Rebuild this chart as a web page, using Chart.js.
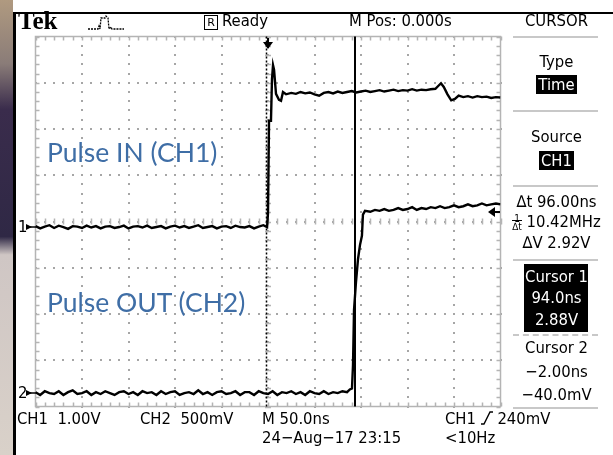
<!DOCTYPE html>
<html>
<head>
<meta charset="UTF-8">
<title>Tek - Pulse IN / Pulse OUT</title>
<script src="https://cdn.jsdelivr.net/npm/chart.js@4"></script>
<style>
    body {
        margin: 0;
        width: 613px;
        height: 455px;
        overflow: hidden;
        background: #fff;
        position: relative;
        font-family: 'DejaVu Sans Condensed', 'Liberation Sans', sans-serif;
    }
    #strip {
        position: absolute; left: 0; top: 0; width: 13px; height: 455px;
        background: linear-gradient(to bottom, #b09a80 0%, #8a7c78 14%, #3a2c4c 24%, #2f2845 52%, #cfc6c4 56%, #d9d1c9 100%);
    }
    #frameL { position: absolute; left: 13px; top: 12px; width: 3px; height: 443px; background: #000; }
    #frameT { position: absolute; left: 13px; top: 12px; width: 600px; height: 2px; background: #000; }
    #scope { position: absolute; left: 0; top: 0; }
    .t {
        position: absolute;
        white-space: nowrap;
        color: #000;
        font-size: 16.5px;
        line-height: 18px;
    }
    .c { left: 500px; width: 113px; text-align: center; }
    .inv { background: #000; color: #fff; padding: 0 2px; }
    .sep { position: absolute; left: 513px; width: 85px; height: 0; border-top: 2px solid #c8c8c8; }
    .note {
        position: absolute;
        white-space: nowrap;
        font-family: Lato, 'Open Sans', sans-serif;
        font-size: 26.5px;
        line-height: 30px;
        color: #3f6ea6;
    }
</style>
</head>
<body>
<div id="strip"></div>
<canvas id="scope" width="613" height="455"></canvas>
<div id="frameL"></div>
<div id="frameT"></div>

<!-- top status line -->
<div class="t" style="left:18px; top:9px; font-family:'Liberation Serif',serif; font-weight:bold; font-size:25px; line-height:24px;">Tek</div>
<svg style="position:absolute; left:88px; top:14px;" width="38" height="18">
    <polyline points="0,15 10,15 11,12 12,15 13,4 17,4 18,2 20,4 21,15 23,13 24,15 36,15" fill="none" stroke="#000" stroke-width="1.3" stroke-dasharray="2,1"/>
</svg>
<div style="position:absolute; left:204px; top:15px; width:12px; height:13px; border:1px solid #000; font-size:11px; line-height:13px; text-align:center; font-family:'DejaVu Sans',sans-serif;">R</div>
<div class="t" style="left:222px; top:12px;">Ready</div>
<div class="t" style="left:349px; top:12px;">M Pos: 0.000s</div>
<div class="t c" style="top:12px;">CURSOR</div>

<!-- right menu -->
<div class="sep" style="top:36px;"></div>
<div class="t c" style="top:53px;">Type</div>
<div class="t c" style="top:76px;"><span class="inv">Time</span></div>
<div class="sep" style="top:110px;"></div>
<div class="t c" style="top:128px;">Source</div>
<div class="t c" style="top:152px;"><span class="inv">CH1</span></div>
<div class="sep" style="top:185px;"></div>
<div class="t c" style="top:193px;">&#8710;t 96.00ns</div>
<div class="t c" style="top:213px;"><span style="display:inline-block; font-size:10px; line-height:8px; vertical-align:middle; text-align:center;">1<br><span style="border-top:1px solid #000;">&#8710;t</span></span> 10.42MHz</div>
<div class="t c" style="top:234px;">&#8710;V 2.92V</div>
<div class="sep" style="top:259px;"></div>
<div style="position:absolute; left:524px; top:264px; width:64px; height:68px; background:#000;"></div>
<div class="t c" style="top:268px; color:#fff;">Cursor 1</div>
<div class="t c" style="top:289px; color:#fff;">94.0ns</div>
<div class="t c" style="top:311px; color:#fff;">2.88V</div>
<div class="sep" style="top:334px; border-top-style:dashed;"></div>
<div class="t c" style="top:339px;">Cursor 2</div>
<div class="t c" style="top:363px;">&minus;2.00ns</div>
<div class="t c" style="top:386px;">&minus;40.0mV</div>
<div class="sep" style="top:407px;"></div>

<!-- bottom status lines -->
<div class="t" style="left:17px; top:410px;">CH1&nbsp; 1.00V</div>
<div class="t" style="left:140px; top:410px;">CH2&nbsp; 500mV</div>
<div class="t" style="left:262px; top:410px;">M 50.0ns</div>
<div class="t" style="left:445px; top:410px;">CH1 <svg width="12" height="14" style="vertical-align:-1px;"><polyline points="0,13 3,13 9,1 12,1" fill="none" stroke="#000" stroke-width="1.4"/></svg> 240mV</div>
<div class="t" style="left:262px; top:429px;">24&minus;Aug&minus;17 23:15</div>
<div class="t" style="left:445px; top:429px;">&lt;10Hz</div>

<!-- channel markers -->
<div class="t" style="left:18px; top:218px;">1</div>
<svg style="position:absolute; left:26px; top:222px;" width="10" height="10"><polygon points="0,2 6,5 0,8" fill="#000"/><line x1="0" y1="5" x2="10" y2="5" stroke="#000" stroke-width="1.5"/></svg>
<div class="t" style="left:18px; top:384px;">2</div>
<svg style="position:absolute; left:26px; top:388px;" width="10" height="10"><polygon points="0,2 6,5 0,8" fill="#000"/><line x1="0" y1="5" x2="10" y2="5" stroke="#000" stroke-width="1.5"/></svg>
<svg style="position:absolute; left:262px; top:38px;" width="12" height="12"><line x1="6" y1="0" x2="6" y2="10" stroke="#000" stroke-width="2"/><polygon points="1,4 11,4 6,11" fill="#000"/></svg>
<svg style="position:absolute; left:488px; top:206px;" width="12" height="12"><polygon points="0,6 7,1 7,11" fill="#000"/><line x1="4" y1="6" x2="12" y2="6" stroke="#000" stroke-width="2"/></svg>

<!-- annotations -->
<div class="note" style="left:47px; top:137px;">Pulse IN (CH1)</div>
<div class="note" style="left:47px; top:287px;">Pulse OUT (CH2)</div>

<script>
// time in ns, values in volts
const ch1Time = [-250, -245, -240, -235, -230, -225, -220, -215, -210, -205,
    -200, -195, -190, -185, -180, -175, -170, -165, -160, -155,
    -150, -145, -140, -135, -130, -125, -120, -115, -110, -105,
    -100, -95, -90, -85, -80, -75, -70, -65, -60, -55,
    -50, -45, -40, -35, -30, -25, -20, -15, -10, -5,
    -1, 0, 1.1, 3.2, 4.3, 5.4, 6.5, 8.6, 11.8, 14, 16.1, 19.4,
    25, 30, 35, 40, 45, 50, 55, 60, 65, 70, 75, 80, 85, 90, 95, 100,
    105, 110, 115, 120, 125, 130, 135, 140, 145, 150, 155, 160, 165, 170, 175, 180,
    183, 186, 189, 193, 197, 201, 205, 210, 215, 220, 225, 230, 235, 240, 245, 250];
const ch1Volts = [0.02, -0.03, 0.01, 0.04, -0.02, 0.03, 0.00, -0.04, 0.02, 0.01,
    -0.02, 0.03, -0.01, 0.02, -0.03, 0.01, 0.02, -0.02, 0.00, 0.03,
    -0.03, 0.01, 0.02, -0.01, 0.03, -0.02, 0.00, 0.02, -0.03, 0.01,
    0.03, -0.01, 0.02, -0.02, 0.01, 0.04, -0.02, 0.00, 0.02, -0.03,
    0.01, 0.02, -0.02, 0.03, 0.00, -0.01, 0.02, -0.03, 0.01, 0.04,
    0.00, 0.30, 2.30, 2.30, 3.20, 3.50, 3.40, 2.88, 2.75, 2.73, 2.92, 2.87,
    2.90, 2.88, 2.92, 2.89, 2.91, 2.87, 2.84, 2.90, 2.92, 2.89, 2.93, 2.90, 2.92, 2.94, 2.91, 2.93,
    2.95, 2.92, 2.94, 2.96, 2.93, 2.95, 2.97, 2.94, 2.96, 2.95, 2.98, 2.95, 2.97, 2.96, 2.98, 2.99,
    3.05, 3.11, 3.03, 2.87, 2.74, 2.77, 2.84, 2.81, 2.83, 2.80, 2.83, 2.81, 2.82, 2.79, 2.81, 2.80];

const ch2Time = [-250, -245, -240, -235, -230, -225, -220, -215, -210, -205,
    -200, -195, -190, -185, -180, -175, -170, -165, -160, -155,
    -150, -145, -140, -135, -130, -125, -120, -115, -110, -105,
    -100, -95, -90, -85, -80, -75, -70, -65, -60, -55,
    -50, -45, -40, -35, -30, -25, -20, -15, -10, -5,
    0, 5, 10, 15, 20, 25, 30, 35, 40, 45,
    50, 55, 60, 65, 70, 75, 80, 85,
    88, 90.3, 91.4, 92.5, 94.6, 96.8, 98.9, 101, 102.1, 104.3,
    110, 115, 120, 125, 130, 135, 140, 145, 150, 155, 160, 165, 170, 175, 180,
    185, 190, 195, 200, 205, 210, 215, 220, 225, 230, 235, 240, 245, 250];
const ch2Volts = [0.01, -0.02, 0.02, 0.00, -0.01, 0.02, -0.02, 0.01, 0.03, -0.01,
    0.00, 0.02, -0.02, 0.01, -0.01, 0.02, 0.00, -0.02, 0.01, 0.02,
    -0.01, 0.01, -0.02, 0.02, 0.00, 0.01, -0.02, 0.02, -0.01, 0.01,
    0.02, -0.02, 0.00, 0.01, -0.01, 0.03, -0.01, 0.01, -0.02, 0.01,
    0.02, -0.01, 0.00, 0.02, -0.02, 0.01, 0.01, -0.02, 0.02, 0.00,
    -0.01, 0.02, -0.02, 0.01, 0.00, 0.02, -0.01, 0.01, -0.02, 0.02,
    0.00, -0.01, 0.02, -0.01, 0.01, 0.00, 0.02, 0.01,
    0.04, 0.05, 0.30, 0.90, 1.20, 1.45, 1.60, 1.70, 1.93, 1.97,
    1.96, 1.98, 1.97, 1.99, 1.97, 1.98, 2.00, 1.98, 1.99, 2.01, 1.98, 2.00, 1.99, 2.01, 2.00,
    2.02, 2.00, 2.01, 2.03, 2.01, 2.02, 2.04, 2.02, 2.03, 2.05, 2.03, 2.04, 2.05, 2.04];

// scope settings: volts per division and ground position in divisions
const ch1Scale = 1.0, ch1Pos = -0.12;
const ch2Scale = 0.5, ch2Pos = -3.71;
const cursorTimes = [94.0, -2.0];   // cursor 1 (solid), cursor 2 (dotted)

function toDivs(times, volts, scale, pos) {
    return times.map((t, i) => ({ x: t, y: volts[i] / scale + pos }));
}

const graticule = {
    id: 'graticule',
    beforeDatasetsDraw(chart) {
        const { ctx, chartArea: a, scales: { x, y } } = chart;
        ctx.save();
        ctx.fillStyle = '#a6a6a6';
        // dotted major lines, one dot per minor division
        for (let i = 1; i < 10; i++) {
            const px = x.getPixelForValue(-250 + i * 50);
            for (let j = 0; j <= 40; j++) {
                const py = y.getPixelForValue(-4 + j * 0.2);
                ctx.fillRect(Math.round(px) - 1, Math.round(py) - 1, 2, 2);
            }
        }
        for (let j = 1; j < 8; j++) {
            const py = y.getPixelForValue(-4 + j);
            for (let i = 0; i <= 50; i++) {
                const px = x.getPixelForValue(-250 + i * 10);
                ctx.fillRect(Math.round(px) - 1, Math.round(py) - 1, 2, 2);
            }
        }
        // frame with minor ticks
        ctx.strokeStyle = '#b4b4b4';
        ctx.lineWidth = 1.5;
        ctx.strokeRect(a.left, a.top, a.right - a.left, a.bottom - a.top);
        ctx.beginPath();
        for (let i = 0; i <= 50; i++) {
            const px = Math.round(x.getPixelForValue(-250 + i * 10)) + 0.5;
            ctx.moveTo(px, a.top); ctx.lineTo(px, a.top + 4);
            ctx.moveTo(px, a.bottom); ctx.lineTo(px, a.bottom - 4);
            const cy = y.getPixelForValue(0);
            ctx.moveTo(px, cy - 3); ctx.lineTo(px, cy + 3);
        }
        for (let j = 0; j <= 40; j++) {
            const py = Math.round(y.getPixelForValue(-4 + j * 0.2)) + 0.5;
            ctx.moveTo(a.left, py); ctx.lineTo(a.left + 4, py);
            ctx.moveTo(a.right, py); ctx.lineTo(a.right - 4, py);
            const cx = x.getPixelForValue(0);
            ctx.moveTo(cx - 3, py); ctx.lineTo(cx + 3, py);
        }
        ctx.stroke();
        // cursors
        ctx.strokeStyle = '#000';
        const c1 = Math.round(x.getPixelForValue(cursorTimes[0]));
        ctx.lineWidth = 2;
        ctx.beginPath(); ctx.moveTo(c1, a.top); ctx.lineTo(c1, a.bottom); ctx.stroke();
        const c2 = Math.round(x.getPixelForValue(cursorTimes[1])) + 0.5;
        ctx.lineWidth = 1.5;
        ctx.setLineDash([2, 2]);
        ctx.beginPath(); ctx.moveTo(c2, a.top); ctx.lineTo(c2, a.bottom); ctx.stroke();
        ctx.restore();
    }
};

new Chart(document.getElementById('scope'), {
    type: 'scatter',
    data: {
        datasets: [
            { label: 'CH1', data: toDivs(ch1Time, ch1Volts, ch1Scale, ch1Pos) },
            { label: 'CH2', data: toDivs(ch2Time, ch2Volts, ch2Scale, ch2Pos) }
        ]
    },
    options: {
        responsive: false,
        animation: false,
        showLine: true,
        layout: { padding: { left: 35.5, right: 112.5, top: 36.5, bottom: 48.5 } },
        elements: {
            point: { radius: 0 },
            line: { borderColor: '#000', borderWidth: 2.4, tension: 0 }
        },
        scales: {
            x: { type: 'linear', min: -250, max: 250, display: false },
            y: { type: 'linear', min: -4, max: 4, display: false }
        },
        plugins: { legend: { display: false }, tooltip: { enabled: false } }
    },
    plugins: [graticule]
});
</script>
</body>
</html>
